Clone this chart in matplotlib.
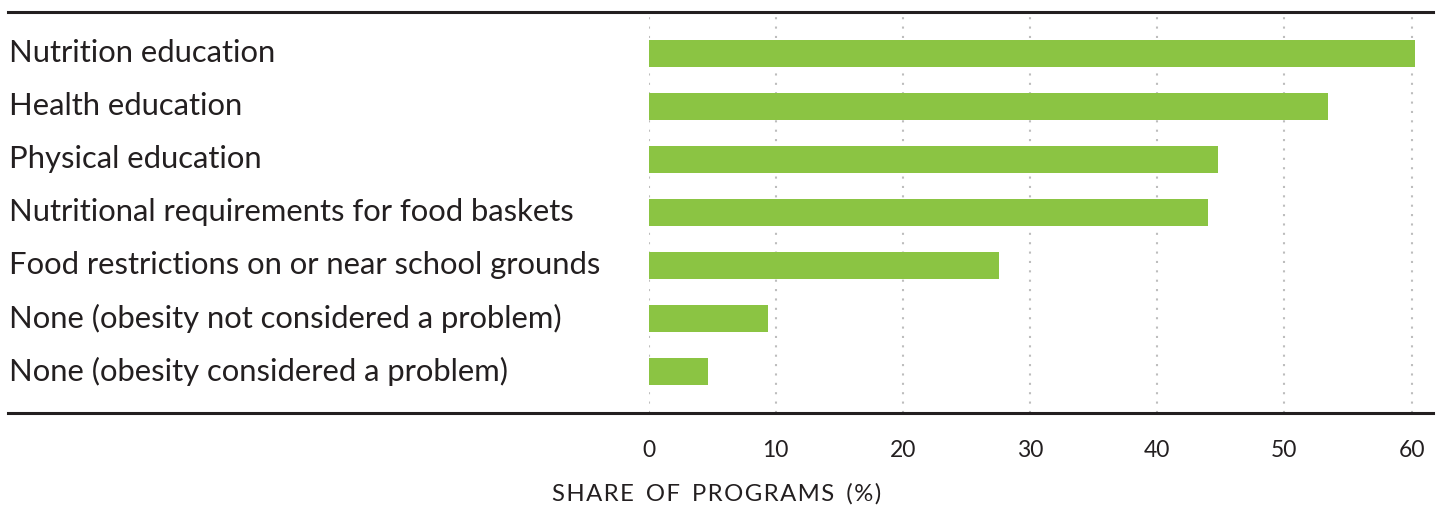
import matplotlib
matplotlib.use("Agg")
from matplotlib import pyplot as plt
from matplotlib.lines import Line2D
import matplotlib.transforms as mtransforms

# Daten
categories = [
    "Nutrition education",
    "Health education",
    "Physical education",
    "Nutritional requirements for food baskets",
    "Food restrictions on or near school grounds",
    "None (obesity not considered a problem)",
    "None (obesity considered a problem)",
]
shares = [60.3, 53.4, 44.8, 44.0, 27.6, 9.4, 4.7]
ticks = [0, 10, 20, 30, 40, 50, 60]

GREEN = "#8bc443"
TEXT = "#231f20"
GRID = "#bdbdbd"

plt.rcParams["font.family"] = ["Lato", "DejaVu Sans"]

W, H = 1441, 508
fig = plt.figure(figsize=(W / 100, H / 100), dpi=100)

# Achsen so platzieren, dass 0 bei x=648 und 60 bei x=1411 liegt
x0, x60 = 648.5, 1411.5
px_per_unit = (x60 - x0) / 60
x_right = 1433
y_top, y_bottom = 11.5, 412.5
ax = fig.add_axes([x0 / W, 1 - y_bottom / H, (x_right - x0) / W, (y_bottom - y_top) / H])

ypos = list(range(len(categories)))
ax.barh(ypos, shares, height=0.51, color=GREEN, zorder=2)
ax.set_xlim(0, (x_right - x0) / px_per_unit)
ax.set_ylim(len(categories) - 1 + 0.78, -0.79)

ax.set_xticks(ticks)
ax.set_xticklabels([str(t) for t in ticks], fontsize=16.5, color=TEXT)
ax.tick_params(axis="x", length=0, pad=20)
ax.set_yticks([])
for s in ax.spines.values():
    s.set_visible(False)
ax.grid(axis="x", color=GRID, linestyle=(0, (1, 3.5)), linewidth=1.5, zorder=1)

# Kategorie-Beschriftungen links
trans = mtransforms.blended_transform_factory(fig.transFigure, ax.transData)
for y, cat in zip(ypos, categories):
    ax.text(9 / W, y, cat, transform=trans, fontsize=22.3, color=TEXT,
            ha="left", va="center", clip_on=False)

# Obere und untere Linie
for yl in (y_top, y_bottom):
    fig.add_artist(Line2D([8 / W, 1433 / W], [1 - yl / H, 1 - yl / H],
                          transform=fig.transFigure, color=TEXT, linewidth=2.2))

fig.text(717 / W, 1 - 494 / H, "S H A R E   O F   P R O G R A M S   ( % )".replace("   ", "\u2002").replace(" ", "\u200a"),
         fontsize=17.2, color=TEXT, ha="center", va="center")

fig.savefig("out.png", dpi=100)
